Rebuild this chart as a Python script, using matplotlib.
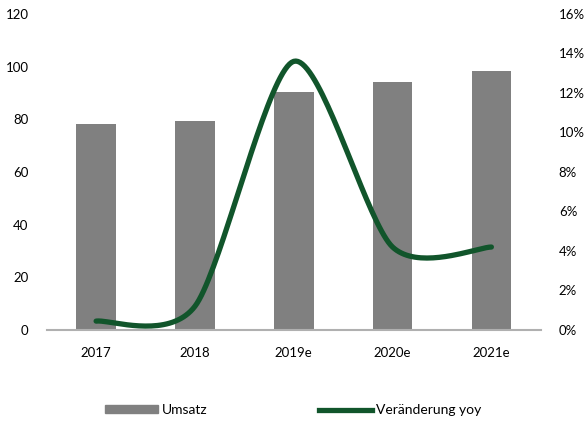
import numpy as np
import matplotlib.pyplot as plt
from matplotlib.patches import Patch
from matplotlib.lines import Line2D
from matplotlib.ticker import FuncFormatter

plt.rcParams['font.family'] = ['Lato', 'DejaVu Sans']

jahre = ['2017', '2018', '2019e', '2020e', '2021e']
umsatz = [78.3, 79.4, 90.2, 94.2, 98.3]
veraenderung = [0.45, 1.2, 13.6, 4.2, 4.2]  # in %

bar_col = '#808080'
line_col = '#11552B'


# Excel-artige Glaettung (Bezier durch die Punkte)
def glatt(x, y, k=1 / 7.5, n=40):
    x = np.asarray(x, float)
    y = np.asarray(y, float)
    px = np.concatenate([[x[0]], x, [x[-1]]])
    py = np.concatenate([[y[0]], y, [y[-1]]])
    xs, ys = [], []
    t = np.linspace(0, 1, n)
    for i in range(1, len(px) - 2):
        p0, p1, p2, p3 = (np.array([px[j], py[j]]) for j in range(i - 1, i + 3))
        c1 = p1 + (p2 - p0) * k
        c2 = p2 - (p3 - p1) * k
        seg = ((1 - t) ** 3)[:, None] * p1 + (3 * (1 - t) ** 2 * t)[:, None] * c1 \
            + (3 * (1 - t) * t ** 2)[:, None] * c2 + (t ** 3)[:, None] * p2
        xs.extend(seg[:, 0])
        ys.extend(seg[:, 1])
    return np.array(xs), np.array(ys)


fig = plt.figure(figsize=(5.84, 4.22), dpi=100)
ax = fig.add_axes([0.080, 0.218, 0.846, 0.749])
x = np.arange(len(jahre))
ax.bar(x, umsatz, width=0.4, color=bar_col, zorder=2)
ax.set_ylim(0, 120)
ax.set_xlim(-0.5, len(jahre) - 0.5)
ax.set_yticks(range(0, 121, 20))
ax.set_xticks(x)
ax.set_xticklabels(jahre)
for s in ['top', 'right', 'left']:
    ax.spines[s].set_visible(False)
ax.spines['bottom'].set_color('#B0B0B0')
ax.spines['bottom'].set_linewidth(1.5)
ax.tick_params(axis='both', length=0, labelsize=9.5, colors='#000000')
ax.tick_params(axis='y', pad=13)
ax.tick_params(axis='x', pad=12)

ax2 = ax.twinx()
xs, ys = glatt(x, veraenderung)
ax2.plot(xs, ys, color=line_col, lw=3.8, solid_capstyle='round', zorder=3)
ax2.set_ylim(0, 16)
ax2.set_yticks(range(0, 17, 2))
ax2.yaxis.set_major_formatter(FuncFormatter(lambda v, p: f'{int(v)}%'))
for s in ['top', 'right', 'left', 'bottom']:
    ax2.spines[s].set_visible(False)
ax2.tick_params(axis='y', length=0, labelsize=9.5, pad=13)

handles = [Patch(color=bar_col, label='Umsatz'),
           Line2D([], [], color=line_col, lw=3.8, label='Veränderung yoy')]
fig.legend(handles=handles, loc='center', bbox_to_anchor=(0.502, 0.028), ncol=2,
           frameon=False, fontsize=10, handlelength=3.8, handleheight=0.5,
           handletextpad=0.3, columnspacing=8.0)

fig.savefig('out.png', dpi=100)
